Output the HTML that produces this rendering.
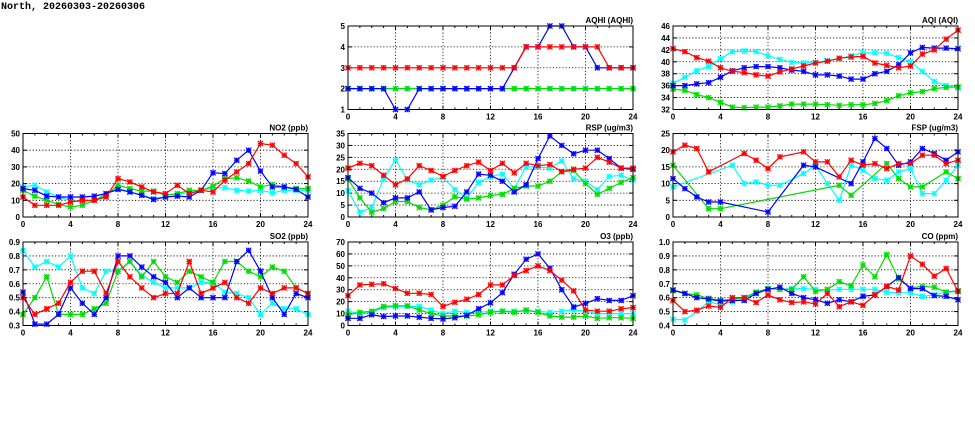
<!DOCTYPE html>
<html><head><meta charset="utf-8">
<style>
html,body{margin:0;padding:0;background:#fff;width:975px;height:447px;overflow:hidden}
svg{display:block}
text{font-family:"Liberation Sans",sans-serif;font-weight:bold;font-size:8px;fill:#000}
.title{font-family:"Liberation Mono",monospace;font-size:10px}
</style></head><body>
<svg id="chart" width="975" height="447" viewBox="0 0 975 447" xmlns="http://www.w3.org/2000/svg">
<text class="title" x="1" y="9">North, 20260303-20260306</text>
</svg>
<script>
const hours = [0,1,2,3,4,5,6,7,8,9,10,11,12,13,14,15,16,17,18,19,20,21,22,23,24];
const xTicks = [0,4,8,12,16,20,24];
const N = null;
const seriesColors = ["#00ffff","#00dd00","#0000ff","#ff0000"];

const no2Cyan  = [18,19,15,12,10,9,10,14,17,15,13,11,12,13,15,16,17.5,17.5,16,15.5,16,14.5,16,16,16];
const no2Green = [16,12.5,10,7.5,6,7,10,13,19,17,15.5,15.5,13,14,16,16,18.5,23,23.5,21.5,18,19.5,18,17,17];
const no2Blue  = [17,16,12.5,12,12,12,12.5,14,16.5,15,13,10.5,12,12.5,12,16,26.5,26,34,40,27.5,18,18,16.5,12];
const no2Red   = [12,7,7,7,9,10,10,12,23,21,18,15,14,19,14,16,15,22,27,32,44,43,37,32,24];
const no2Ticks = [0,10,20,30,40,50];

const so2Cyan  = [.84,.72,.76,.72,.8,.57,.53,.69,.69,.76,.66,.61,.57,.57,.57,.61,.61,.54,.53,.5,.38,.46,.42,.42,.38];
const so2Green = [.38,.5,.65,.38,.38,.38,.42,.46,.69,.76,.65,.76,.65,.61,.69,.65,.61,.76,.76,.69,.65,.72,.69,.57,.53];
const so2Blue  = [.54,.31,.31,.38,.57,.46,.38,.5,.8,.8,.72,.65,.61,.5,.57,.5,.5,.5,.76,.84,.69,.5,.38,.53,.5];
const so2Red   = [.5,.38,.42,.46,.61,.69,.69,.53,.76,.65,.57,.5,.53,.53,.76,.53,.57,.61,.5,.46,.57,.53,.57,.57,.53];
const so2Ticks = [0.3,0.4,0.5,0.6,0.7,0.8,0.9];

const aqhiCyan  = [2,2,2,2,2,2,2,2,2,2,2,2,2,2,2,2,2,2,2,2,2,2,2,2,2];
const aqhiGreen = [2,2,2,2,2,2,2,2,2,2,2,2,2,2,2,2,2,2,2,2,2,2,2,2,2];
const aqhiBlue  = [2,2,2,2,1,1,2,2,2,2,2,2,2,2,3,4,4,5,5,4,4,3,3,3,3];
const aqhiRed   = [3,3,3,3,3,3,3,3,3,3,3,3,3,3,3,4,4,4,4,4,4,4,3,3,3];
const aqhiTicks = [1,2,3,4,5];

const rspCyan  = [11,2,4,16,24,15.5,13.5,15.5,16.5,11.5,8,14.5,17,18,12,21,21,20.5,23.5,16,15,11.5,17,17.5,15.5];
const rspGreen = [16,8,2,3.5,6.5,6.5,4,3,5,8.5,7.5,8,9,9.5,12,13,13,15,19,19.5,14,9.5,12,14.5,16.5];
const rspBlue  = [16.5,12,10,6,8,8,10.5,3,4,4.5,10.5,18,17.5,15,10.5,13.5,24.5,34,30,26.5,28,28,24.5,20.5,20];
const rspRed   = [20.5,22.5,21.5,17.5,13.5,16,21.5,19.5,17,19.5,21.5,23,19.5,22.5,18.5,22.5,21.5,22,19,20,20.5,25,23,20.5,20.5];
const rspTicks = [0,5,10,15,20,25,30,35];

const o3Cyan  = [12,10,11,15,16,16,16,13,10,12,11,11,12,12,12,12,12,11,12,13,12,10,10,10,10];
const o3Green = [9,11,12,16,16.5,16.5,13,10,8,8,8,9,11,12,11,13,11,8,7,7,8,6,6.5,6.5,6];
const o3Blue  = [6,6,9,7.5,8,8,7,6,5.5,6.5,8.5,14,19,27.5,43,55.5,60,48,30,15.5,18.5,22.5,21,21,25];
const o3Red   = [25,34,34.5,35,31,27,27,26,16,19.5,22,26,34,34,42,46,50,46,38,29,13,12,12,14,15];
const o3Ticks = [0,10,20,30,40,50,60,70];

const aqiCyan  = [36.4,37.4,38.5,39.2,40.5,41.7,41.8,41.7,41,40.4,39.9,39.8,39.9,40.2,40.5,41,41.5,41.5,41.4,40.7,40,38.4,36.7,36,35.6];
const aqiGreen = [35.4,35.2,34.5,34,33.2,32.4,32.3,32.4,32.4,32.6,32.9,32.9,32.9,32.8,32.7,32.8,32.8,33,33.5,34.3,34.8,35,35.5,35.7,35.8];
const aqiBlue  = [36,36,36.3,36.5,37.4,38.5,39,39.2,39.2,39,38.6,38.4,37.8,37.8,37.6,37.1,37.1,38,38.4,39.5,41.5,42.4,42.3,42.3,42.2];
const aqiRed   = [42.2,41.7,40.7,40.1,39,38.4,38.2,37.8,37.6,38.3,38.8,39.3,39.8,40.1,40.6,40.8,40.9,39.8,39.4,39,39.3,41.3,42,43.8,45.3];
const aqiTicks = [32,34,36,38,40,42,44,46];

const fspCyan  = [9,N,N,N,N,15.5,10,10.5,9.5,9.5,N,13,15.5,10,5,15.5,14,11.5,11,13.5,14.5,7,7,11,15.5];
const fspGreen = [15.5,N,N,2.5,2.5,N,N,N,N,N,N,N,N,N,9.5,6.5,N,N,16,11.5,9,9,N,13.5,11.5];
const fspBlue  = [11.5,8.5,6,4.5,4.5,N,N,N,1.5,N,N,15.5,15,N,N,10,16.5,23.5,20.5,15.5,16.5,20.5,19,17,19.5];
const fspRed   = [19.5,21.5,20.5,13.5,N,N,19,17,14.5,18,N,19.5,16.5,16.5,12,17,15.5,16,14.5,16,16,18.5,18.5,16,17];
const fspTicks = [0,5,10,15,20,25];

const coCyan  = [.445,.44,.5,.57,.55,.57,.59,.64,.665,.66,.665,.665,.66,.655,.66,.66,.66,.66,.64,.635,.635,.61,.62,.64,.645];
const coGreen = [.65,.63,.62,.595,.58,.59,.6,.64,.665,.66,.66,.75,.645,.66,.715,.685,.835,.75,.91,.735,.67,.68,.675,.64,.65];
const coBlue  = [.655,.63,.6,.59,.575,.58,.58,.63,.66,.675,.63,.6,.585,.56,.585,.57,.61,.62,.68,.745,.665,.665,.615,.61,.585];
const coRed   = [.58,.5,.51,.54,.53,.6,.6,.565,.62,.585,.565,.57,.555,.63,.535,.57,.545,.62,.68,.655,.9,.84,.755,.81,.645];
const coTicks = [0.4,0.5,0.6,0.7,0.8,0.9,1.0];

const NS = "http://www.w3.org/2000/svg";
const svg = document.getElementById("chart");
function mk(tag, attrs, parent){
  const e = document.createElementNS(NS, tag);
  for (const k in attrs) e.setAttribute(k, attrs[k]);
  (parent||svg).appendChild(e);
  return e;
}
function panel(key, title, x0, y0, w, h, ticks, decimals, series){
  const g = mk("g", {});
  
  
  const ymin = ticks[0], ymax = ticks[ticks.length-1];
  const sx = v => x0 + (v - 0) / 24 * w;
  const sy = v => y0 + h - (v - ymin) / (ymax - ymin) * h;
  // grid
  ticks.forEach((t, i) => {
    const y = sy(t);
    if (i > 0 && i < ticks.length-1) mk("line", {x1:x0, x2:x0+w, y1:y, y2:y, stroke:"#000", "stroke-width":0.8, "stroke-dasharray":"1.2,2"}, g);
    mk("line", {x1:x0, x2:x0+4, y1:y, y2:y, stroke:"#000", "stroke-width":1}, g);
    mk("line", {x1:x0+w-4, x2:x0+w, y1:y, y2:y, stroke:"#000", "stroke-width":1}, g);
    const lbl = mk("text", {x:x0-3, y:y+3, "text-anchor":"end"}, g);
    lbl.textContent = t.toFixed(decimals);
    
    
  });
  for (let hr = 0; hr <= 24; hr++) {
    const x = sx(hr);
    const major = hr % 4 === 0;
    if (major && hr > 0 && hr < 24) mk("line", {x1:x, x2:x, y1:y0, y2:y0+h, stroke:"#000", "stroke-width":0.8, "stroke-dasharray":"1.2,2"}, g);
    const len = major ? 4 : 2;
    mk("line", {x1:x, x2:x, y1:y0+h, y2:y0+h-len, stroke:"#000", "stroke-width":1}, g);
    mk("line", {x1:x, x2:x, y1:y0, y2:y0+len, stroke:"#000", "stroke-width":1}, g);
  }
  xTicks.forEach(t => {
    const lbl = mk("text", {x:sx(t), y:y0+h+10, "text-anchor":"middle"}, g);
    lbl.textContent = t;
    
    
  });
  // series
  series.forEach((vals, si) => {
    const col = seriesColors[si];
    const sg = mk("g", {}, g);
    
    
    let d = "";
    vals.forEach((v, i) => {
      if (v === null) return;
      d += (d ? "L" : "M") + sx(hours[i]).toFixed(1) + "," + sy(v).toFixed(1);
    });
    mk("path", {d:d, fill:"none", stroke:col, "stroke-width":1.2}, sg);
    vals.forEach((v, i) => {
      if (v === null) return;
      const cx = sx(hours[i]), cy = sy(v), r = 2.6;
      mk("rect", {x:cx-r, y:cy-r, width:2*r, height:2*r, fill:col, "fill-opacity":0.35}, sg);
      const m = mk("path", {d:`M${cx-r},${cy-r}L${cx+r},${cy+r}M${cx-r},${cy+r}L${cx+r},${cy-r}M${cx-r},${cy}L${cx+r},${cy}M${cx},${cy-r}L${cx},${cy+r}`, stroke:col, "stroke-width":1.1}, sg);
      
      
    });
  });
  mk("rect", {x:x0, y:y0, width:w, height:h, fill:"none", stroke:"#000", "stroke-width":1}, g);
  const tt = mk("text", {x:x0+w, y:y0-3, "text-anchor":"end"}, g);
  tt.textContent = title;
  
  
}
const W = 285, H = 83.5;
panel("aqhi", "AQHI (AQHI)", 348, 26, W, H, aqhiTicks, 0, [aqhiCyan, aqhiGreen, aqhiBlue, aqhiRed]);
panel("aqi", "AQI (AQI)", 673, 26, W, H, aqiTicks, 0, [aqiCyan, aqiGreen, aqiBlue, aqiRed]);
panel("no2", "NO2 (ppb)", 23, 133.5, W, H, no2Ticks, 0, [no2Cyan, no2Green, no2Blue, no2Red]);
panel("rsp", "RSP (ug/m3)", 348, 133.5, W, H, rspTicks, 0, [rspCyan, rspGreen, rspBlue, rspRed]);
panel("fsp", "FSP (ug/m3)", 673, 133.5, W, H, fspTicks, 0, [fspCyan, fspGreen, fspBlue, fspRed]);
panel("so2", "SO2 (ppb)", 23, 242, W, H, so2Ticks, 1, [so2Cyan, so2Green, so2Blue, so2Red]);
panel("o3", "O3 (ppb)", 348, 242, W, H, o3Ticks, 0, [o3Cyan, o3Green, o3Blue, o3Red]);
panel("co", "CO (ppm)", 673, 242, W, H, coTicks, 1, [coCyan, coGreen, coBlue, coRed]);
</script>
</body></html>
